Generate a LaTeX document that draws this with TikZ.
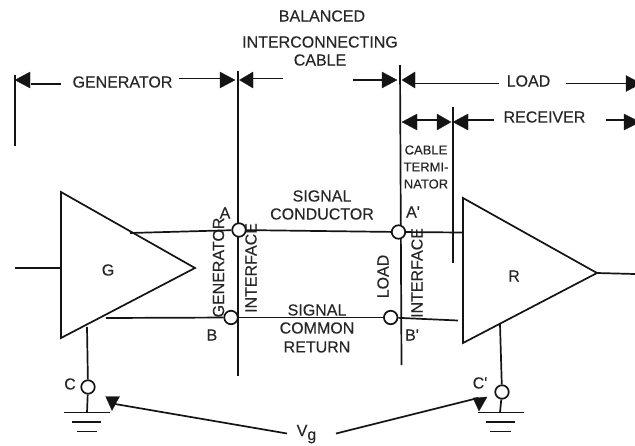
\documentclass[tikz,border=0pt]{standalone}
\usepackage{fontspec}
\setmainfont{Liberation Sans}[FakeBold=0.15]
\newfontfamily\labfont{Liberation Sans}[FakeBold=0.15]
\usetikzlibrary{arrows.meta}
\definecolor{ink}{gray}{0.08}
\definecolor{txt}{gray}{0.15}
\tikzset{
  wire/.style={draw=ink,line width=1.7pt},
  dimline/.style={draw=ink,line width=1.7pt},
  terminal/.style={circle,draw=ink,line width=1.7pt,fill=white,minimum size=13.5pt,inner sep=0pt},
  lab/.style={text=txt,font=\labfont\fontsize{16}{18}\selectfont,inner sep=0pt},
  smalllab/.style={text=txt,font=\labfont\fontsize{13}{16}\selectfont,inner sep=0pt},
  vlab/.style={text=txt,font=\labfont\fontsize{16}{18}\selectfont,inner sep=0pt,rotate=90},
  bang/.style={fill=ink,draw=ink,line width=0.3pt,line join=miter}
}
% filled dimension arrow head: tip x, base x, centre y
\newcommand{\dimhead}[3]{\fill[bang] (#1,#3) -- (#2,#3-8) -- (#2,#3+8) -- cycle;}
\begin{document}
\begin{tikzpicture}[x=1pt,y=-1pt]
\useasboundingbox[fill=white] (0,0) rectangle (635,445);

% interface verticals
\coordinate (vgT) at (15,75);  \coordinate (vgB) at (15,146);
\coordinate (v1T) at (238,71); \coordinate (v1B) at (238,376);
\coordinate (v2T) at (400,65); \coordinate (v2B) at (401.5,365);
\coordinate (v3T) at (453,107);\coordinate (v3B) at (453,263);
\draw[dimline] (vgT) -- (vgB);
\draw[dimline] (v1T) -- (v1B);
\draw[dimline] (v2T) -- (v2B);
\draw[dimline] (v3T) -- (v3B);

% amplifiers
\coordinate (Gt) at (61,192); \coordinate (Gb) at (61,338); \coordinate (Gp) at (195,268);
\coordinate (Rt) at (463,198);\coordinate (Rb) at (463,343); \coordinate (Rp) at (597,273);
\draw[wire,line join=miter] (Gt) -- (Gb) -- (Gp) -- cycle;
\draw[wire,line join=miter] (Rt) -- (Rb) -- (Rp) -- cycle;
\node[lab] (Glab) at (108,270) {G};
\node[lab] (Rlab) at (514,276) {R};
\coordinate (Gin) at (15,268); \coordinate (Gin2) at (61,268);
\coordinate (Rout) at (635,274);
\draw[wire] (Gin) -- (Gin2);
\draw[wire] (Rp) -- (Rout);

% rotated labels (under the terminals)
\node[vlab] (gi) at (218.5,267.5) {GENERATOR};
\node[vlab] (ii) at (251,268) {INTERFACE};
\node[vlab] (li) at (383,276.5) {LOAD};
\node[vlab] (ri) at (417,273) {INTERFACE};

% terminals
\node[terminal] (A) at (239,230) {};
\node[terminal] (Ap) at (398.5,232) {};
\node[terminal] (B) at (231,317.5) {};
\node[terminal] (Bp) at (390.7,317.5) {};
\node[terminal] (C) at (88,387) {};
\node[terminal] (Cp) at (502,392) {};

% signal wires
\coordinate (sg) at (130,233); \coordinate (sr) at (463,232.5);
\coordinate (rg) at (106,318); \coordinate (rr) at (458,320.5);
\draw[wire] (sg) -- (A);
\draw[wire] (A) -- (Ap);
\draw[wire] (Ap) -- (sr);
\draw[wire] (rg) -- (B);
\draw[wire] (B) -- (Bp);
\draw[wire] (Bp) -- (rr);

% grounds
\coordinate (gs) at (87,327); \coordinate (gg) at (87,412.5);
\coordinate (hs) at (500,324); \coordinate (hg) at (500,412.5);
\draw[wire] (gs) -- (C);
\draw[wire] (C) -- (gg);
\draw[wire] (hs) -- (Cp);
\draw[wire] (Cp) -- (hg);
\draw[wire] (64,412.5) -- (110,412.5);
\draw[wire] (72,422) -- (101,422);
\draw[wire] (77,431.5) -- (97,431.5);
\draw[wire] (478,412.5) -- (524,412.5);
\draw[wire] (486,422) -- (515,422);
\draw[wire] (490,431.5) -- (511,431.5);

% top labels
\node[lab] (bal) at (322,16) {BALANCED};
\node[lab] (inter) at (320,42) {INTERCONNECTING};
\node[lab] (cab) at (320,60) {CABLE};
\node[lab] (gen) at (122.5,82) {GENERATOR};
\node[lab] (load) at (528.5,81) {LOAD};
\node[lab] (rec) at (544.5,117) {RECEIVER};

% dimension lines
\draw[dimline] (31,84) -- (61,84);
\draw[dimline] (179,78.5) -- (220,78.5);
\draw[dimline] (253,78.5) -- (283,78.5);
\draw[dimline] (353,80) -- (382,80);
\draw[dimline] (415,83.5) -- (499,83.5);
\draw[dimline] (566,83.5) -- (626,83.5);
\draw[dimline] (417,120) -- (437,120);
\draw[dimline] (468,120) -- (494,120);
\draw[dimline] (606,120) -- (624,120);
% dimension heads
\dimhead{15}{30}{80}
\dimhead{235}{220}{80}
\dimhead{239.5}{253}{80}
\dimhead{397}{382}{80}
\dimhead{402}{415}{80}
\dimhead{641}{626}{83.5}
\dimhead{402}{417}{122}
\dimhead{451}{437}{122}
\dimhead{453}{468}{122}
\dimhead{640}{624}{122}

% terminator
\node[smalllab] (t1) at (426,150) {CABLE};
\node[smalllab] (t2) at (426,167) {TERMI-};
\node[smalllab] (t3) at (426,184) {NATOR};

% wire labels
\node[lab] (sig1) at (322,196) {SIGNAL};
\node[lab] (sig2) at (322,214) {CONDUCTOR};
\node[lab] (ret1) at (317,310) {SIGNAL};
\node[lab] (ret2) at (317,328) {COMMON};
\node[lab] (ret3) at (317,347) {RETURN};

% terminal labels
\node[lab] (Al) at (225,213) {A};
\node[lab] (Apl) at (413,212) {A'};
\node[lab] (Bl) at (212,335) {B};
\node[lab] (Bpl) at (412,335) {B'};
\node[lab] (Cl) at (70,384) {C};
\node[lab] (Cpl) at (480,383) {C'};

% Vg arrows
\node[lab,anchor=base west] (Vg) at (296.5,436) {V\raisebox{-4pt}{g}};
\coordinate (v1) at (287,433.5); \coordinate (v2) at (115,404);
\coordinate (v3) at (336,433.5); \coordinate (v4) at (478,398);
\draw[wire] (v1) -- (v2);
\draw[wire] (v3) -- (v4);
\fill[bang] (105.7,396.5) -- (119.5,396.5) -- (112,410.5) -- cycle;
\fill[bang] (473,398) -- (487,397) -- (479,411) -- cycle;
\end{tikzpicture}
\end{document}
